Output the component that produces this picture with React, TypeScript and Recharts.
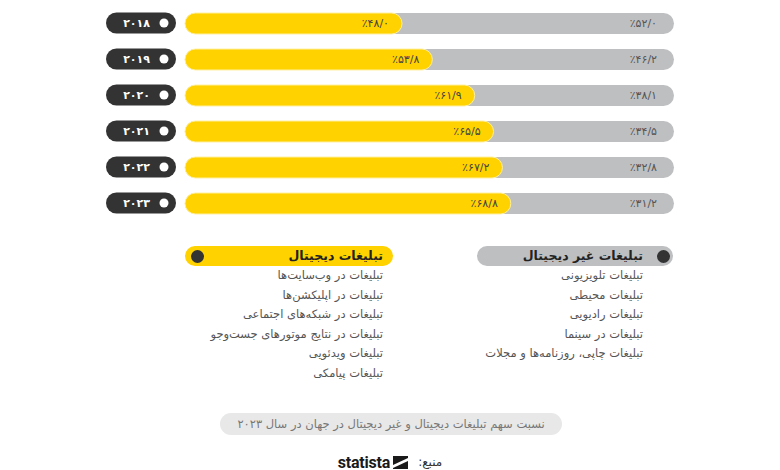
import { BarChart, Bar, XAxis, YAxis, LabelList } from 'recharts';

// sahm-e tabliqat: digital vs gheir-e digital (darsad)
const years = [2018, 2019, 2020, 2021, 2022, 2023];
const digitalShare = [48.0, 53.8, 61.9, 65.5, 67.2, 68.8];
const nonDigitalShare = [52.0, 46.2, 38.1, 34.5, 32.8, 31.2];

const digitalTitle = 'تبلیغات دیجیتال';
const digitalItems = [
  'تبلیغات در وب‌سایت‌ها',
  'تبلیغات در اپلیکشن‌ها',
  'تبلیغات در شبکه‌های اجتماعی',
  'تبلیغات در نتایج موتورهای جست‌وجو',
  'تبلیغات ویدئویی',
  'تبلیغات پیامکی',
];
const nonDigitalTitle = 'تبلیغات غیر دیجیتال';
const nonDigitalItems = [
  'تبلیغات تلویزیونی',
  'تبلیغات محیطی',
  'تبلیغات رادیویی',
  'تبلیغات در سینما',
  'تبلیغات چاپی، روزنامه‌ها و مجلات',
];
const caption = 'نسبت سهم تبلیغات دیجیتال و غیر دیجیتال در جهان در سال ۲۰۲۳';
const sourceLabel = 'منبع:';

const YELLOW = '#FFD200';
const GREY = '#BEBFC1';
const DARK = '#333333';
const FONT = '"DejaVu Sans", "Noto Sans", sans-serif';

// bars start a little right of the axis zero, like the original design
const BAR_START = 6.5;

const toFa = (s: string) => s.replace(/\d/g, (d) => '۰۱۲۳۴۵۶۷۸۹'[Number(d)]);
const pct = (v: number) => '٪' + toFa(v.toFixed(1)).replace('.', '/');

const data = years.map((y, i) => ({
  year: toFa(String(y)),
  digital: [BAR_START, digitalShare[i]],
  full: [BAR_START, digitalShare[i] + nonDigitalShare[i]],
  digitalLabel: pct(digitalShare[i]),
  nonDigitalLabel: pct(nonDigitalShare[i]),
}));

function YearTick({ x, y, payload }: any) {
  return (
    <g>
      <rect x={x - 45} y={y - 10.5} width={70} height={21} rx={10.5} fill={DARK} />
      <circle cx={x + 13} cy={y} r={4.5} fill="#fff" />
      <text x={x - 1} y={y} dy={4} textAnchor="end" fill="#fff" fontSize={11} fontWeight="bold" fontFamily={FONT}>
        {payload.value}
      </text>
    </g>
  );
}

export default function App() {
  return (
    <div style={{ position: 'absolute', left: 0, top: 0, width: 780, height: 470, background: '#fff', fontFamily: FONT }}>
      <BarChart
        width={780}
        height={230}
        data={data}
        layout="vertical"
        margin={{ top: 5, right: 106, left: 0, bottom: 9 }}
        barSize={21}
        barGap={-21}
      >
        <XAxis type="number" domain={[0, 100]} hide />
        <YAxis
          type="category"
          dataKey="year"
          width={151}
          axisLine={false}
          tickLine={false}
          tickSize={0}
          tickMargin={0}
          tick={<YearTick />}
        />
        <Bar dataKey="full" fill={GREY} radius={10.5} isAnimationActive={false}>
          <LabelList dataKey="nonDigitalLabel" position="insideRight" offset={17} fill="#555" fontSize={11} fontFamily={FONT} />
        </Bar>
        <Bar dataKey="digital" fill={YELLOW} stroke="#FFF0A0" strokeWidth={1} radius={10.5} isAnimationActive={false}>
          <LabelList dataKey="digitalLabel" position="insideRight" offset={13} fill="#444" fontSize={11} fontFamily={FONT} />
        </Bar>
      </BarChart>

      {/* legend: digital */}
      <div style={{ position: 'absolute', left: 185, top: 246, width: 208, height: 20, borderRadius: 10, background: YELLOW }} />
      <div style={{ position: 'absolute', left: 190.5, top: 249.5, width: 13, height: 13, borderRadius: 7, background: DARK }} />
      <div style={{ position: 'absolute', left: 185, top: 246, width: 198, height: 20, lineHeight: '20px', direction: 'rtl', textAlign: 'right', fontSize: 12.5, fontWeight: 'bold', color: '#222' }}>
        {digitalTitle}
      </div>
      <div style={{ position: 'absolute', left: 145, top: 266, width: 238, direction: 'rtl', textAlign: 'right', fontSize: 11.5, lineHeight: '19.6px', color: '#555' }}>
        {digitalItems.map((t) => (
          <div key={t}>{t}</div>
        ))}
      </div>

      {/* legend: non digital */}
      <div style={{ position: 'absolute', left: 477, top: 246, width: 196, height: 20, borderRadius: 10, background: GREY }} />
      <div style={{ position: 'absolute', left: 656.5, top: 249.5, width: 13, height: 13, borderRadius: 7, background: DARK }} />
      <div style={{ position: 'absolute', left: 477, top: 246, width: 166, height: 20, lineHeight: '20px', direction: 'rtl', textAlign: 'right', fontSize: 12.5, fontWeight: 'bold', color: '#222' }}>
        {nonDigitalTitle}
      </div>
      <div style={{ position: 'absolute', left: 420, top: 266, width: 223, direction: 'rtl', textAlign: 'right', fontSize: 11.5, lineHeight: '19.6px', color: '#555' }}>
        {nonDigitalItems.map((t) => (
          <div key={t}>{t}</div>
        ))}
      </div>

      {/* caption */}
      <div style={{ position: 'absolute', left: 220, top: 413, width: 342, height: 22, lineHeight: '22px', borderRadius: 11, background: '#E8E8E8', direction: 'rtl', textAlign: 'center', fontSize: 11.5, color: '#777' }}>
        {caption}
      </div>

      {/* source */}
      <div style={{ position: 'absolute', left: 300, top: 451, width: 180, height: 22, display: 'flex', alignItems: 'center', justifyContent: 'center', gap: 10 }}>
        <div style={{ display: 'flex', alignItems: 'center', gap: 3 }}>
          <span style={{ fontFamily: 'Roboto, sans-serif', fontWeight: 'bold', fontSize: 16, color: '#1a1a1a', letterSpacing: -0.2 }}>statista</span>
          <svg width={15} height={13} viewBox="0 0 15 13">
            <rect x={0} y={0} width={15} height={13} fill="#1a1a1a" />
            <path d="M0 9 L15 2 L15 5 L0 12 Z" fill="#fff" />
          </svg>
        </div>
        <span style={{ direction: 'rtl', fontSize: 12, color: '#333' }}>{sourceLabel}</span>
      </div>
    </div>
  );
}
